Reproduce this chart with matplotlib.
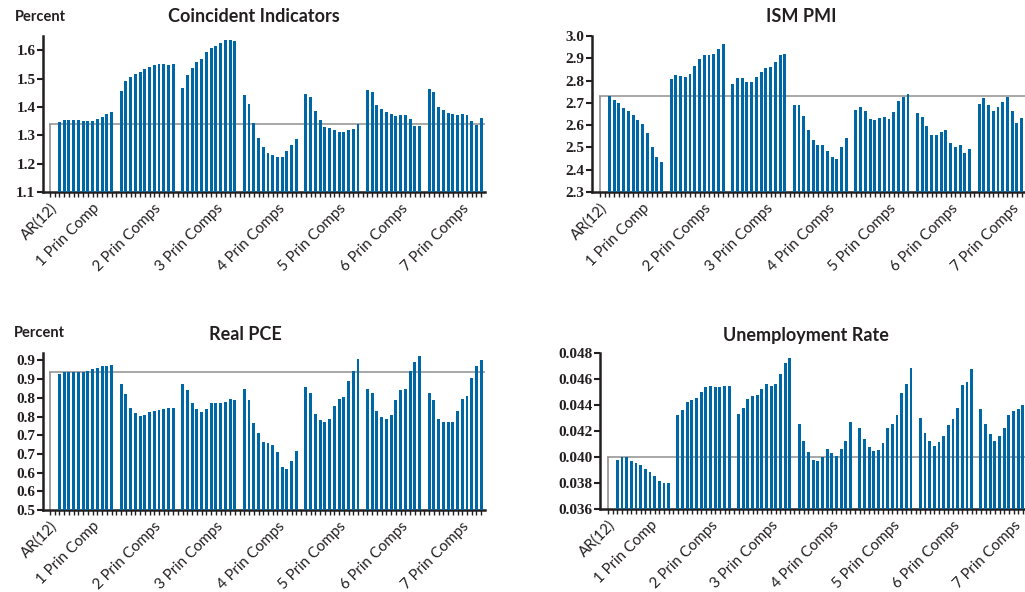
import matplotlib
matplotlib.use("Agg")
import matplotlib.pyplot as plt
import numpy as np

# ---- data ----
group_labels = ["1 Prin Comp", "2 Prin Comps", "3 Prin Comps", "4 Prin Comps",
                "5 Prin Comps", "6 Prin Comps", "7 Prin Comps"]

coin_ar = 1.340
coin_groups = [
    [1.348, 1.355, 1.355, 1.355, 1.355, 1.351, 1.351, 1.351, 1.359, 1.366, 1.376, 1.383],
    [1.457, 1.493, 1.505, 1.516, 1.524, 1.533, 1.540, 1.547, 1.551, 1.551, 1.547, 1.551],
    [1.467, 1.512, 1.537, 1.558, 1.568, 1.593, 1.607, 1.614, 1.625, 1.635, 1.635, 1.632],
    [1.442, 1.411, 1.344, 1.292, 1.257, 1.236, 1.232, 1.225, 1.225, 1.243, 1.264, 1.288],
    [1.446, 1.435, 1.386, 1.355, 1.330, 1.327, 1.320, 1.313, 1.313, 1.320, 1.323, 1.341],
    [1.460, 1.453, 1.407, 1.393, 1.383, 1.376, 1.369, 1.372, 1.372, 1.358, 1.334, 1.334],
    [1.463, 1.453, 1.400, 1.390, 1.379, 1.376, 1.372, 1.376, 1.372, 1.351, 1.337, 1.362],
]

ism_ar = 2.732
ism_groups = [
    [2.729, 2.714, 2.699, 2.678, 2.663, 2.646, 2.625, 2.607, 2.565, 2.504, 2.459, 2.433],
    [2.808, 2.824, 2.821, 2.817, 2.830, 2.866, 2.897, 2.915, 2.915, 2.920, 2.942, 2.964],
    [2.786, 2.812, 2.812, 2.794, 2.794, 2.817, 2.839, 2.857, 2.862, 2.884, 2.915, 2.920],
    [2.692, 2.692, 2.643, 2.576, 2.535, 2.513, 2.509, 2.482, 2.455, 2.446, 2.500, 2.544],
    [2.669, 2.683, 2.665, 2.629, 2.625, 2.634, 2.638, 2.629, 2.660, 2.710, 2.727, 2.741],
    [2.656, 2.638, 2.598, 2.558, 2.558, 2.571, 2.580, 2.522, 2.500, 2.509, 2.473, 2.495],
    [2.696, 2.723, 2.692, 2.665, 2.683, 2.705, 2.727, 2.665, 2.611, 2.634],
]

pce_ar = 0.870
pce_groups = [
    [0.865, 0.868, 0.868, 0.868, 0.870, 0.870, 0.873, 0.876, 0.881, 0.884, 0.884, 0.887],
    [0.836, 0.811, 0.774, 0.760, 0.752, 0.755, 0.763, 0.766, 0.768, 0.771, 0.774, 0.774],
    [0.836, 0.820, 0.785, 0.771, 0.763, 0.771, 0.785, 0.787, 0.785, 0.790, 0.798, 0.795],
    [0.825, 0.793, 0.734, 0.707, 0.683, 0.678, 0.675, 0.654, 0.615, 0.610, 0.632, 0.658],
    [0.828, 0.814, 0.758, 0.742, 0.736, 0.744, 0.779, 0.798, 0.801, 0.844, 0.873, 0.903],
    [0.825, 0.814, 0.766, 0.750, 0.744, 0.755, 0.793, 0.822, 0.825, 0.873, 0.895, 0.913],
    [0.814, 0.793, 0.744, 0.736, 0.736, 0.736, 0.766, 0.798, 0.806, 0.852, 0.884, 0.900],
]

unemp_ar = 0.03997
unemp_groups = [
    [0.03979, 0.03997, 0.03997, 0.03972, 0.03954, 0.03941, 0.03910, 0.03887, 0.03856, 0.03818, 0.03803, 0.03803],
    [0.04326, 0.04364, 0.04426, 0.04441, 0.04456, 0.04503, 0.04541, 0.04549, 0.04541, 0.04541, 0.04549, 0.04549],
    [0.04333, 0.04379, 0.04449, 0.04472, 0.04479, 0.04526, 0.04564, 0.04549, 0.04564, 0.04641, 0.04726, 0.04764],
    [0.04256, 0.04126, 0.04041, 0.03979, 0.03972, 0.04003, 0.04064, 0.04033, 0.04010, 0.04064, 0.04126, 0.04272],
    [0.04226, 0.04141, 0.04079, 0.04049, 0.04056, 0.04110, 0.04226, 0.04256, 0.04326, 0.04495, 0.04564, 0.04687],
    [0.04303, 0.04187, 0.04126, 0.04087, 0.04118, 0.04164, 0.04249, 0.04295, 0.04379, 0.04556, 0.04579, 0.04679],
    [0.04372, 0.04256, 0.04179, 0.04126, 0.04164, 0.04226, 0.04326, 0.04356, 0.04372, 0.04403],
]

BLUE = "#0067a6"
GREY_BAR = "#a3a3a3"
GREY_LINE = "#8f8f8f"
DARK = "#231f20"
W, H = 1025, 592


def px_rect(left, top, right, bottom):
    return [left / W, 1 - bottom / H, (right - left) / W, (bottom - top) / H]


def half_up(v):
    return "%.1f" % (np.floor(v * 10 + 0.5 + 1e-9) / 10)


def panel(fig, rect, xlim, ar, groups, ylim, step, fmt):
    ax = fig.add_axes(rect)
    ax.bar(0, ar, width=0.62, color=GREY_BAR, zorder=2)
    for k, vals in enumerate(groups):
        x = 2 + 13 * k + np.arange(len(vals))
        ax.bar(x, vals, width=0.62, color=BLUE, zorder=3)
    ax.hlines(ar, -0.31, xlim[1], color=GREY_LINE, lw=1.1, zorder=2)
    ax.set_xlim(*xlim)
    ax.set_ylim(*ylim)
    yt = np.arange(ylim[0], ylim[1] + step * 0.01, step)
    yt = yt[yt <= ylim[1] + 1e-9]
    ax.set_yticks(yt, [fmt(v) for v in yt], fontfamily="Liberation Serif",
                  fontweight="bold", fontsize=11, color=DARK)
    for s in ["top", "right"]:
        ax.spines[s].set_visible(False)
    for s in ["left", "bottom"]:
        ax.spines[s].set_linewidth(1.8)
        ax.spines[s].set_color(DARK)
    pos = list(range(92))
    labels = [""] * 92
    labels[0] = "AR(12)"
    for k, g in enumerate(group_labels):
        labels[9 + 13 * k] = g
    ax.set_xticks(pos)
    ax.set_xticklabels(labels, rotation=45, ha="right", va="top",
                       rotation_mode="anchor", fontsize=10.8, family="Lato",
                       color=DARK)
    ax.tick_params(axis="x", length=3.5, width=1.0, color=DARK, pad=3)
    ax.tick_params(axis="y", length=4, width=1.5, color=DARK, pad=1.5)
    return ax


fig = plt.figure(figsize=(W / 100, H / 100), dpi=100)

panel(fig, px_rect(43, 36, 485, 192), (-1.48, 91.8), coin_ar, coin_groups,
      (1.1, 1.65), 0.1, lambda v: "%.1f" % v)
panel(fig, px_rect(592, 36, 1034, 192), (-1.69, 91.6), ism_ar, ism_groups,
      (2.3, 3.0), 0.1, lambda v: "%.1f" % v)
panel(fig, px_rect(43, 353, 485, 510), (-1.48, 91.8), pce_ar, pce_groups,
      (0.5, 0.92), 0.05, half_up)
panel(fig, px_rect(600, 353, 1042, 509), (-1.72, 93.1), unemp_ar, unemp_groups,
      (0.036, 0.048), 0.002, lambda v: "%.3f" % v)

title_kw = dict(ha="center", va="center", fontsize=13, family="Lato",
                fontweight="bold", color=DARK)
fig.text(254 / W, 1 - 17 / H, "Coincident Indicators", **title_kw)
fig.text(801 / W, 1 - 17 / H, "ISM PMI", **title_kw)
fig.text(245 / W, 1 - 335 / H, "Real PCE", **title_kw)
fig.text(806 / W, 1 - 335 / H, "Unemployment Rate", **title_kw)

pct_kw = dict(ha="left", va="center", fontsize=10.5, family="Lato",
              fontweight="bold", color=DARK)
fig.text(15 / W, 1 - 17 / H, "Percent", **pct_kw)
fig.text(14 / W, 1 - 333 / H, "Percent", **pct_kw)

fig.savefig("out.png", dpi=100)
